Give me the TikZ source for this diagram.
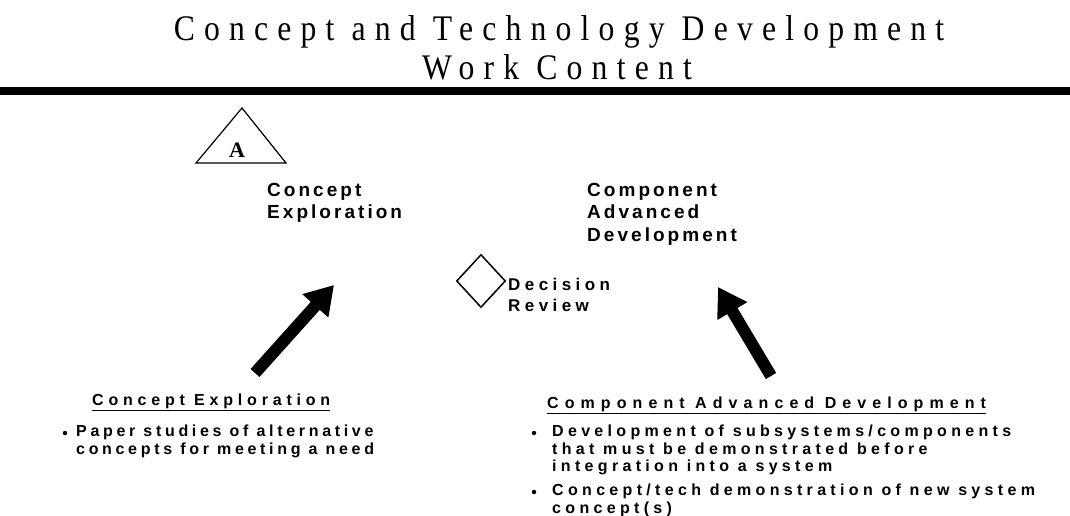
\documentclass[tikz,border=0pt]{standalone}
\usepackage{fontspec}
\setmainfont{Liberation Serif}
\newfontfamily\titlefont[LetterSpace=29]{Liberation Serif}
\newfontfamily\lblfont[LetterSpace=16]{Liberation Sans Bold}
\newfontfamily\decfont[LetterSpace=26]{Liberation Sans Bold}
\newfontfamily\bodyfont[LetterSpace=27]{Liberation Sans Bold}
\newfontfamily\lbodyfont[LetterSpace=23]{Liberation Sans Bold}
\newfontfamily\headfont[LetterSpace=38]{Liberation Sans Bold}
\newfontfamily\lheadfont[LetterSpace=30]{Liberation Sans Bold}
\usetikzlibrary{arrows.meta,shapes.geometric}
\tikzset{
  ttl/.style={anchor=base, inner sep=0pt, font=\titlefont\fontsize{36}{36}\selectfont},
  lbl/.style={anchor=north west, inner sep=0pt, align=left, font=\lblfont\fontsize{19}{22.5}\selectfont},
  hdr/.style={anchor=base west, inner sep=0pt, font=\headfont\fontsize{16}{18}\selectfont},
  lhdr/.style={anchor=base west, inner sep=0pt, font=\lheadfont\fontsize{16}{18}\selectfont},
  bul/.style={anchor=north west, inner sep=0pt, align=left, font=\bodyfont\fontsize{16}{17.5}\selectfont},
  lbul/.style={anchor=north west, inner sep=0pt, align=left, font=\lbodyfont\fontsize{16}{18}\selectfont},
  dot/.style={circle, fill=black, inner sep=0pt, minimum size=4.5pt},
  bigarrow/.style={line width=12pt, -{Triangle[length=28pt,width=33pt]}},
}
\begin{document}
\begin{tikzpicture}[x=1pt,y=-1pt]
\useasboundingbox (0,0) rectangle (1070,516);
\fill[white] (0,0) rectangle (1070,516);
% title
\node[ttl] (t1) at (559,41) {\scalebox{0.88}[1]{Concept and Technology Development}};
\node[ttl] (t2) at (557,80) {\scalebox{0.88}[1]{Work Content}};
\fill[black] (0,87) rectangle (1070,95);
% triangle milestone
\coordinate (ta) at (242,108);
\coordinate (tl) at (196,163);
\coordinate (tr) at (286,163);
\draw[line width=1.2pt, line join=miter] (ta) -- (tl) -- (tr) -- cycle;
\node[inner sep=0pt, font=\bfseries\fontsize{22}{22}\selectfont] (A) at (237,150) {A};
% labels
\node[lbl] (ce) at (267,183) {Concept\\Exploration};
\node[lbl] (cad) at (587,183) {Component\\Advanced\\Development};
% decision diamond
\node[draw, line width=1.5pt, diamond, minimum width=49pt, minimum height=53pt, inner sep=0pt] (dia) at (481,281) {};
\node[anchor=north west, inner sep=0pt, align=left, font=\decfont\fontsize{17}{21}\selectfont] (dr) at (508,278) {Decision\\Review};
% arrows
\coordinate (la0) at (255,373);
\coordinate (la1) at (334,285);
\coordinate (ra0) at (771,376);
\coordinate (ra1) at (718,287);
\draw[bigarrow] (la0) -- (la1);
\draw[bigarrow] (ra0) -- (ra1);
% bottom left
\node[lhdr] (h1) at (92,405) {\underline{Concept Exploration}};
\node[dot] (b1) at (65,433) {};
\node[lbul] (p1) at (76,425) {Paper studies of alternative\\concepts for meeting a need};
% bottom right
\node[hdr] (h2) at (547,408) {\underline{Component Advanced Development}};
\node[dot] (b2) at (534,433) {};
\node[bul] (p2) at (552,425) {Development of subsystems/components\\that must be demonstrated before\\integration into a system};
\node[dot] (b3) at (534,492) {};
\node[bul] (p3) at (552,484) {Concept/tech demonstration of new system\\concept(s)};
\end{tikzpicture}
\end{document}
